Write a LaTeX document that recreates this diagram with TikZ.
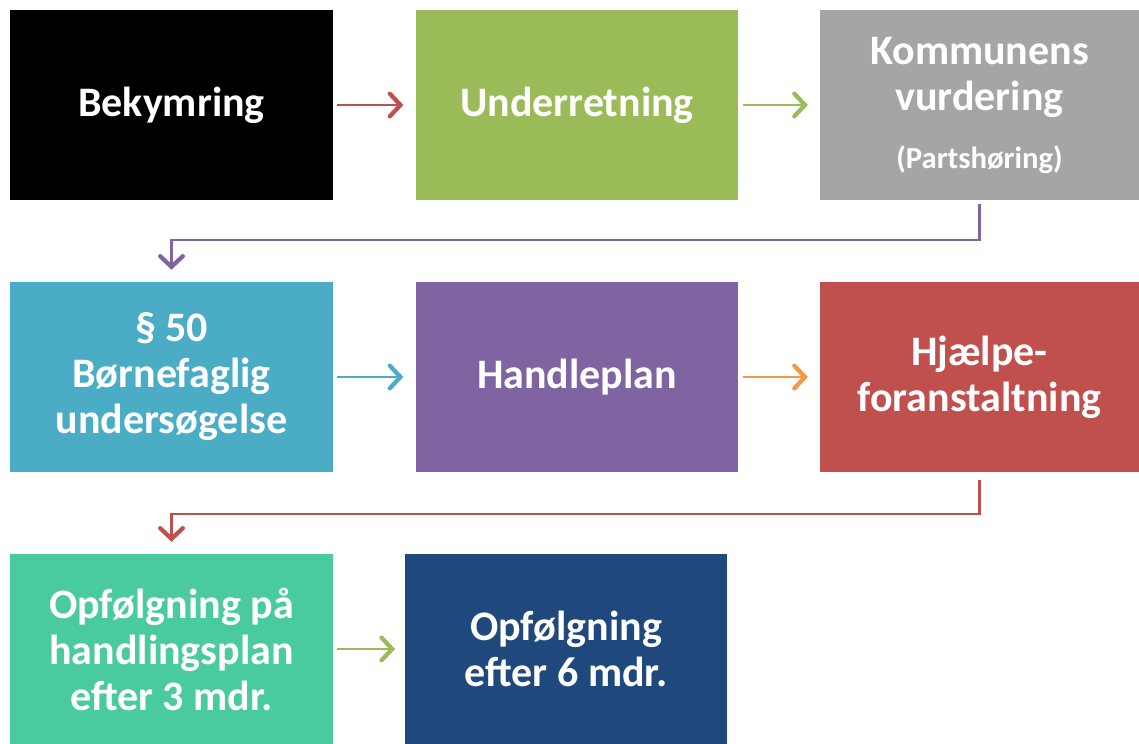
\documentclass[tikz,border=0pt]{standalone}
\usepackage{fontspec}
\setmainfont{Carlito}
\usetikzlibrary{arrows.meta}
\definecolor{cGreen}{HTML}{9BBB59}
\definecolor{cGray}{HTML}{A5A5A5}
\definecolor{cBlue}{HTML}{4BACC6}
\definecolor{cPurple}{HTML}{8064A2}
\definecolor{cRed}{HTML}{C0504D}
\definecolor{cTeal}{HTML}{4ACB9E}
\definecolor{cNavy}{HTML}{1F497D}
\definecolor{cOrange}{HTML}{F79646}
\tikzset{
  box/.style={fill=#1, text=white, align=center, inner sep=0pt,
    minimum width=242pt, minimum height=142.5pt,
    font=\fontsize{31.5}{34.5}\selectfont\bfseries},
  pil/.style={draw=#1, line width=2.2pt, shorten <=3pt, shorten >=9pt,
    -{Straight Barb[length=8pt, width=17pt, line width=3.2pt, line cap=round]}},
}
\begin{document}
\begin{tikzpicture}[x=0.75pt, y=-0.75pt]
        \useasboundingbox (0,0) rectangle (1139,743);
        % First row
        \node[box=black] (bek) at (171.5,105) {Bekymring};
        \node[box=cGreen] (und) at (577,105) {Underretning};
        \node[box=cGray, minimum width=239pt] (vur) at (979.5,105)
          {Kommunens\\vurdering\\[9pt]{\fontsize{23}{27}\selectfont(Partshøring)}};
        % Second row
        \node[box=cBlue] (bor) at (171.5,377) {§ 50\\Børnefaglig\\undersøgelse};
        \node[box=cPurple] (han) at (577,377) {Handleplan};
        \node[box=cRed, minimum width=239pt] (hja) at (979.5,377) {Hjælpe-\\foranstaltning};
        % Third row
        \node[box=cTeal] (op3) at (171.5,649) {Opfølgning på\\handlingsplan\\efter 3 mdr.};
        \node[box=cNavy] (op6) at (566,649) {Opfølgning\\efter 6 mdr.};
        % Arrows between the boxes
        \draw[pil=cRed] (bek) -- (und);
        \draw[pil=cGreen] (und) -- (vur);
        \draw[pil=cBlue] (bor) -- (han);
        \draw[pil=cOrange] (han) -- (hja);
        \draw[pil=cGreen, shorten >=7pt] (op3) -- (op6);
        % Turns down to the next row
        \draw[pil=cPurple, line width=1.6pt] (vur.south) -- ++(0,40) -| (bor.north);
        \draw[pil=cRed, line width=1.6pt, shorten <=6pt] (hja.south) -- ++(0,42) -| (op3.north);
    \end{tikzpicture}
\end{document}
